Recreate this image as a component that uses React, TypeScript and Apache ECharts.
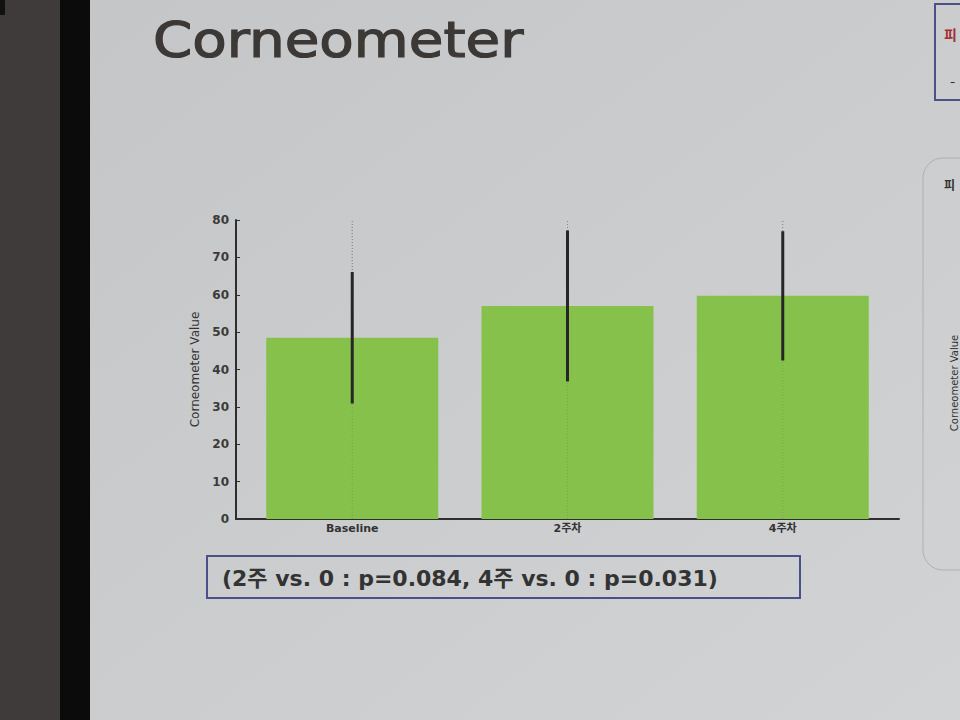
import React, { useEffect, useRef } from "react";
import * as echarts from "echarts";

const categories = ["Baseline", "2주차", "4주차"];
const means = [48.5, 57.0, 59.7];
const errors = [17.6, 20.2, 17.3];
const yTicks = [0, 10, 20, 30, 40, 50, 60, 70, 80];
const title = "Corneometer";
const yName = "Corneometer Value";
const note = "(2주 vs. 0 : p=0.084, 4주 vs. 0 : p=0.031)";

export default function App() {
  const ref = useRef<HTMLDivElement>(null);
  useEffect(() => {
    if (!ref.current) return;
    const chart = echarts.init(ref.current, null, { renderer: "svg" });
    const barData = means.map((m, i) => [i, m]);
    const errData = means.map((m, i) => [i, m - errors[i], m + errors[i]]);
    const yMin = yTicks[0];
    const yMax = yTicks[yTicks.length - 1];
    chart.setOption({
      animation: false,
      backgroundColor: {
        type: "linear", x: 0, y: 0, x2: 1, y2: 1,
        colorStops: [
          { offset: 0, color: "#c3c5c6" },
          { offset: 1, color: "#d1d3d4" },
        ],
      },
      graphic: [
        { type: "rect", z: -5, shape: { x: 0, y: 0, width: 61, height: 720 }, style: { fill: "#3f3b3b" } },
        { type: "rect", z: -5, shape: { x: 0, y: 0, width: 5, height: 15 }, style: { fill: "#111" } },
        { type: "rect", z: -5, shape: { x: 60, y: 0, width: 30, height: 720 }, style: { fill: "#0b0b0b" } },
        {
          type: "text", x: 153, y: 40, scaleX: 1.15,
          style: {
            text: title, font: "49px 'DejaVu Sans'", fill: "#3b3836",
            stroke: "#3b3836", lineWidth: 1.2,
            verticalAlign: "middle", textAlign: "left",
          },
        },
        {
          type: "rect", shape: { x: 207, y: 556, width: 593, height: 42 },
          style: { fill: "none", stroke: "#4c5088", lineWidth: 2 },
        },
        {
          type: "text", x: 222, y: 578,
          style: {
            text: note, font: "bold 22px 'DejaVu Sans', 'Noto Sans CJK KR'", fill: "#333",
            verticalAlign: "middle", textAlign: "left",
          },
        },
        {
          type: "rect", shape: { x: 935, y: 4, width: 40, height: 96 },
          style: { fill: "none", stroke: "#4c5088", lineWidth: 2 },
        },
        {
          type: "text", x: 944, y: 34,
          style: { text: "피", font: "bold 14px 'Noto Sans CJK KR'", fill: "#a03030", verticalAlign: "middle" },
        },
        {
          type: "text", x: 950, y: 80,
          style: { text: "-", font: "15px 'Noto Sans CJK KR'", fill: "#333", verticalAlign: "middle" },
        },
        {
          type: "rect", shape: { x: 923, y: 158, width: 60, height: 412, r: 20 },
          style: { fill: "none", stroke: "#aeb0b1", lineWidth: 1 },
        },
        {
          type: "text", x: 944, y: 184,
          style: { text: "피", font: "bold 12px 'Noto Sans CJK KR'", fill: "#333", verticalAlign: "middle" },
        },
        {
          type: "text", x: 954, y: 383, rotation: Math.PI / 2,
          style: { text: yName, font: "10px 'DejaVu Sans'", fill: "#333", verticalAlign: "middle", textAlign: "center" },
        },
      ],
      grid: { left: 236, top: 220, right: 61, bottom: 201, containLabel: false },
      xAxis: {
        type: "value",
        min: -0.54,
        max: 2.54,
        axisLine: { show: true, onZero: false, lineStyle: { color: "#2e2e2e", width: 2 } },
        axisTick: { show: true, inside: true, length: 4, customValues: [0, 1, 2], lineStyle: { color: "#2e2e2e" } },
        axisLabel: {
          customValues: [0, 1, 2],
          formatter: (v: number) => categories[Math.round(v)] ?? "",
          color: "#333",
          fontFamily: "'DejaVu Sans', 'Noto Sans CJK KR'",
          fontWeight: "bold",
          fontSize: 11,
          margin: 4,
        },
        splitLine: { show: false },
      },
      yAxis: {
        type: "value",
        min: yMin,
        max: yMax,
        interval: 10,
        name: yName,
        nameLocation: "middle",
        nameGap: 33,
        nameTextStyle: { color: "#333", fontFamily: "'DejaVu Sans'", fontSize: 12 },
        axisLine: { show: true, onZero: false, lineStyle: { color: "#2e2e2e", width: 2 } },
        axisTick: { show: true, inside: true, length: 4, lineStyle: { color: "#2e2e2e" } },
        axisLabel: {
          color: "#3a3a3a",
          fontFamily: "'DejaVu Sans'",
          fontWeight: "bold",
          fontSize: 12,
          margin: 7,
          formatter: (v: number) => (yTicks.includes(v) ? String(v) : ""),
        },
        splitLine: { show: false },
      },
      series: [
        {
          type: "custom",
          data: errData,
          z: 1,
          renderItem: (_params: any, api: any) => {
            const x = api.value(0);
            const g1 = api.coord([x, yMin]);
            const g2 = api.coord([x, yMax]);
            return {
              type: "line",
              shape: { x1: g1[0], y1: g1[1], x2: g2[0], y2: g2[1] },
              style: { stroke: "#8a8f86", lineWidth: 1, lineDash: [1, 2] },
            };
          },
        },
        {
          type: "bar",
          data: barData,
          barWidth: 172,
          itemStyle: { color: "#86c24b" },
          z: 2,
        },
        {
          type: "custom",
          data: errData,
          z: 5,
          renderItem: (_params: any, api: any) => {
            const x = api.value(0);
            const g1 = api.coord([x, yMin]);
            const g2 = api.coord([x, yMax]);
            const p1 = api.coord([x, api.value(1)]);
            const p2 = api.coord([x, api.value(2)]);
            return {
              type: "group",
              children: [
                {
                  type: "line",
                  shape: { x1: g1[0], y1: g1[1], x2: g2[0], y2: g2[1] },
                  style: { stroke: "#6f8060", opacity: 0.5, lineWidth: 1, lineDash: [1, 2] },
                },
                {
                  type: "line",
                  shape: { x1: p1[0], y1: p1[1], x2: p2[0], y2: p2[1] },
                  style: { stroke: "#262626", lineWidth: 3 },
                },
              ],
            };
          },
        },
      ],
    });
    return () => chart.dispose();
  }, []);
  return (
    <div
      ref={ref}
      style={{ position: "fixed", left: 0, top: 0, width: 960, height: 720 }}
    />
  );
}
